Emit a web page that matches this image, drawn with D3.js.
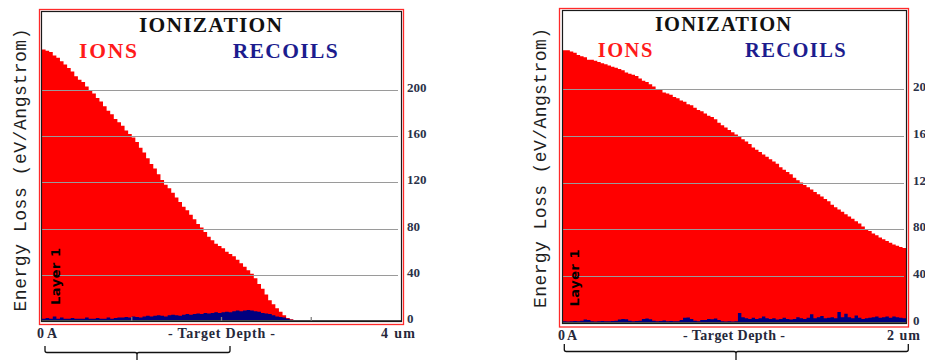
<!DOCTYPE html>
<html>
<head>
<meta charset="utf-8">
<script src="https://cdn.jsdelivr.net/npm/d3@7"></script>
<style>
  html, body { margin: 0; padding: 0; background: #fff; }
  svg { display: block; }
</style>
</head>
<body>
<svg id="chart" width="925" height="360"></svg>
<script>
// Ionization energy loss (eV/Angstrom) in 100 equal depth bins per target.
const leftDepthMax = 4;   // um
const rightDepthMax = 2;  // um

const leftIons = [
  235, 234, 233, 230, 228, 225, 222, 219, 216, 212,
  209, 207, 203, 200, 197, 193, 190, 186, 182, 179,
  175, 172, 169, 165, 162, 159, 155, 150, 146, 141,
  136, 132, 127, 122, 118, 115, 111, 107, 103, 99,
  96, 92, 88, 84, 81, 77, 73, 70, 67, 65,
  63, 60, 58, 56, 53, 50, 47, 44, 41, 37,
  32, 28, 23, 18, 14.5, 11, 8, 5, 2.6, 1.6,
  0.9, 0.3, 0, 0, 0, 0, 0, 0, 0, 0,
  0, 0, 0, 0, 0, 0, 0, 0, 0, 0,
  0, 0, 0, 0, 0, 0, 0, 0, 0, 0
];

const leftRecoils = [
  2, 2.5, 2, 4, 2, 3, 2, 2, 2.5, 2,
  2, 2, 3, 2, 2, 2.5, 2, 2, 3, 2,
  2.5, 3, 3, 3.5, 3, 4, 3.5, 3, 4, 4.5,
  4, 4.5, 5, 4.5, 4, 5, 5.5, 5, 4.5, 5.5,
  6, 5.5, 6, 6.5, 6, 7, 6.5, 7, 7.5, 7,
  7.5, 8, 7.5, 8.5, 9, 8.5, 9, 9.5, 9, 8.5,
  8, 7, 6.5, 6, 5, 4, 3.5, 3, 2, 1,
  0.5, 0, 0, 0, 0, 0, 0, 0, 0, 0,
  0, 0, 0, 0, 0, 0, 0, 0, 0, 0,
  0, 0, 0, 0, 0, 0, 0, 0, 0, 0
];

const rightIons = [
  233, 233, 232, 231, 229, 228, 227, 225, 225, 224,
  223, 222, 221, 220, 219, 218, 217, 216, 214, 213,
  212, 211, 209, 207, 206, 204, 202, 200, 199, 197,
  196, 195, 193, 192, 190, 189, 187, 186, 184, 182,
  181, 179, 177, 176, 174, 171, 169, 167, 165, 163,
  161, 159, 157, 155, 153, 150, 148, 146, 144, 142,
  140, 138, 136, 133, 131, 129, 127, 124, 122, 120,
  118, 116, 114, 112, 110, 108, 106, 104, 101, 99,
  97, 95, 93, 91, 89, 87, 85, 82.5, 80, 78.5,
  76.5, 75, 73, 71.5, 70, 68.5, 67, 66, 65, 64
];

const rightRecoils = [
  1.5, 1.2, 1.5, 1.8, 1.5, 2, 3, 2.5, 1.5, 1.2,
  1.5, 1.8, 1.5, 1.5, 1.8, 2, 3, 3.5, 3.3, 2,
  1.5, 1.8, 2, 3.5, 3.8, 3.2, 2, 1.5, 1.8, 2.2,
  1.5, 1.8, 1.5, 1.5, 2.5, 4.5, 4.8, 3.5, 2, 1.5,
  2.5, 2.5, 3.5, 3.2, 3.8, 2.5, 1.5, 1.2, 1.5, 1.2,
  1.5, 8.5, 5, 4, 3.5, 4.5, 3.5, 4, 5.5, 4,
  3.5, 4, 3, 3.5, 4.5, 3.5, 3, 3.5, 5, 4,
  3.5, 4.5, 7.5, 4, 5, 6, 4, 4.5, 5, 4,
  9.5, 5, 8, 5, 4, 6.5, 4.5, 3.5, 4, 4.5,
  5, 5.5, 4.5, 5, 5.5, 4.5, 5.5, 5, 4.5, 4
];

const yTicks = [0, 40, 80, 120, 160, 200];
const gridValues = [40, 80, 120, 160, 200];
const leftDepthTicks = [1, 2, 3];
const rightDepthTicks = [];

const titleText = "IONIZATION";
const ionsLabel = "IONS";
const recoilsLabel = "RECOILS";
const yAxisLabel = "Energy Loss (eV/Angstrom)";
const layerLabel = "Layer 1";
const depthLabel = "- Target Depth -";
const depthStart = "0 A";
const leftDepthEnd = "4 um";
const rightDepthEnd = "2 um";

const ION_RED = "#ff0000";
const RECOIL_BLUE = "#000080";
const SERIF = "'Liberation Serif', 'Times New Roman', serif";
const MONO = "'Courier New', 'Liberation Mono', monospace";
const SANS = "'DejaVu Sans', sans-serif";

const svg = d3.select("#chart");
svg.append("rect").attr("width", 925).attr("height", 360).attr("fill", "#fff");

function drawPanel(p, idx) {
  const g = svg.append("g");
  const x = d3.scaleLinear().domain([0, p.depthMax]).range([p.plotLeft, p.plotRight]);
  const y = d3.scaleLinear().domain([0, p.yMax]).range([p.plotBottom, p.plotTop]);

  const clipId = "clip" + idx;
  g.append("clipPath").attr("id", clipId)
    .append("rect")
    .attr("x", p.plotLeft).attr("y", p.plotTop)
    .attr("width", p.plotRight - p.plotLeft)
    .attr("height", p.plotBottom - p.plotTop);

  const binWidth = p.depthMax / p.ions.length;
  const toSteps = arr => {
    const pts = arr.map((v, i) => [i * binWidth, v]);
    pts.push([arr.length * binWidth, arr[arr.length - 1]]);
    return pts;
  };
  const area = d3.area()
    .x(d => x(d[0]))
    .y0(y(0))
    .y1(d => y(d[1]))
    .curve(d3.curveStepAfter);

  const plot = g.append("g").attr("clip-path", `url(#${clipId})`);
  plot.append("path").datum(toSteps(p.ions)).attr("d", area).attr("fill", ION_RED);
  plot.append("path").datum(toSteps(p.recoils)).attr("d", area).attr("fill", RECOIL_BLUE);

  // horizontal grid lines over the fills
  g.append("g").selectAll("line").data(gridValues).join("line")
    .attr("x1", p.plotLeft).attr("x2", p.gridRight)
    .attr("y1", d => Math.round(y(d)) + 0.5).attr("y2", d => Math.round(y(d)) + 0.5)
    .attr("stroke", "#9a9a9a").attr("stroke-width", 1.2);

  // depth axis with small upward ticks
  g.append("line")
    .attr("x1", p.plotLeft).attr("x2", p.plotRight)
    .attr("y1", y(0)).attr("y2", y(0))
    .attr("stroke", "#505050").attr("stroke-width", 2);
  g.append("g").selectAll("line").data(p.depthTicks).join("line")
    .attr("x1", d => x(d)).attr("x2", d => x(d))
    .attr("y1", y(0)).attr("y2", y(0) - 4)
    .attr("stroke", "#808080").attr("stroke-width", 1.3);

  // frames
  g.append("rect")
    .attr("x", p.inner[0]).attr("y", p.inner[1])
    .attr("width", p.inner[2] - p.inner[0]).attr("height", p.inner[3] - p.inner[1])
    .attr("fill", "none").attr("stroke", "#1a1a1a").attr("stroke-width", 1.2);
  g.append("rect")
    .attr("x", p.outer[0]).attr("y", p.outer[1])
    .attr("width", p.outer[2] - p.outer[0]).attr("height", p.outer[3] - p.outer[1])
    .attr("fill", "none").attr("stroke", "#ff2a2a").attr("stroke-width", 1.3);

  // energy tick labels on the right
  g.append("g").selectAll("text").data(yTicks).join("text")
    .attr("x", p.tickX).attr("y", d => y(d) + 2)
    .attr("font-family", SERIF).attr("font-weight", "bold").attr("font-size", 13)
    .attr("fill", "#2b3148")
    .text(d => d);

  // headings
  g.append("text")
    .attr("x", p.title[0]).attr("y", p.title[1]).attr("text-anchor", "middle")
    .attr("font-family", SERIF).attr("font-weight", "bold").attr("font-size", p.titleSize)
    .attr("textLength", p.title[2]).attr("fill", "#111")
    .text(titleText);
  g.append("text")
    .attr("x", p.ionsPos[0]).attr("y", p.ionsPos[1])
    .attr("font-family", SERIF).attr("font-weight", "bold").attr("font-size", p.titleSize)
    .attr("textLength", p.ionsPos[2]).attr("fill", "#ff1a1a")
    .text(ionsLabel);
  g.append("text")
    .attr("x", p.recoilsPos[0]).attr("y", p.recoilsPos[1])
    .attr("font-family", SERIF).attr("font-weight", "bold").attr("font-size", p.titleSize)
    .attr("textLength", p.recoilsPos[2]).attr("fill", "#1c1c8e")
    .text(recoilsLabel);

  // rotated labels
  g.append("text")
    .attr("transform", `translate(${p.yLabel[0]},${p.yLabel[1]}) rotate(-90)`)
    .attr("text-anchor", "middle")
    .attr("font-family", MONO).attr("font-size", 18)
    .attr("textLength", p.yLabel[2]).attr("fill", "#1e1e1e")
    .text(yAxisLabel);
  g.append("text")
    .attr("transform", `translate(${p.layer[0]},${p.layer[1]}) rotate(-90)`)
    .attr("text-anchor", "middle")
    .attr("font-family", SANS).attr("font-weight", "bold").attr("font-size", 13)
    .attr("textLength", p.layer[2]).attr("fill", "#000")
    .text(layerLabel);

  // depth labels
  const depthText = (pos, txt, anchor) => g.append("text")
    .attr("x", pos[0]).attr("y", pos[1]).attr("text-anchor", anchor)
    .attr("font-family", SERIF).attr("font-weight", "bold").attr("font-size", 14)
    .attr("textLength", pos[2]).attr("fill", "#26283a")
    .text(txt);
  depthText(p.startPos, depthStart, "start");
  depthText(p.midPos, depthLabel, "middle");
  depthText(p.endPos, p.endText, "start");

  // brace under the depth axis
  const [bl, br, bc, bt, bh, bb] = p.brace;
  const r = 2;
  const bracePath = `M${bl},${bt} L${bl},${bh - r} Q${bl},${bh} ${bl + r},${bh} L${bc - r},${bh} Q${bc},${bh} ${bc},${bh + r} L${bc},${bb}
    M${bc},${bh + r} Q${bc},${bh} ${bc + r},${bh} L${br - r},${bh} Q${br},${bh} ${br},${bh - r} L${br},${bt}`;
  g.append("path").attr("d", bracePath)
    .attr("fill", "none").attr("stroke", "#111").attr("stroke-width", 1.3);
}

const panels = [
  {
    depthMax: leftDepthMax, ions: leftIons, recoils: leftRecoils, depthTicks: leftDepthTicks,
    plotLeft: 42, plotRight: 401, plotTop: 11.5, plotBottom: 321, yMax: 268, gridRight: 398,
    inner: [41.5, 11.5, 401.5, 321.5], outer: [39.5, 9.5, 403.5, 324.5],
    tickX: 407, titleSize: 21.5,
    title: [210.5, 32, 143], ionsPos: [79, 58, 58], recoilsPos: [232.7, 58, 105],
    yLabel: [26, 170, 283], layer: [60, 276.5, 57],
    startPos: [37, 337.5, 20], midPos: [221.5, 337.5, 107], endPos: [381, 337.5, 34], endText: leftDepthEnd,
    brace: [45, 230, 137, 346, 352.5, 361]
  },
  {
    depthMax: rightDepthMax, ions: rightIons, recoils: rightRecoils, depthTicks: rightDepthTicks,
    plotLeft: 563, plotRight: 906, plotTop: 10.5, plotBottom: 323, yMax: 267, gridRight: 904,
    inner: [562.5, 10.5, 906.5, 323.5], outer: [559.5, 8.5, 908.5, 327],
    tickX: 913, titleSize: 20.5,
    title: [723, 31, 136], ionsPos: [597.7, 57, 54.6], recoilsPos: [745, 57, 100.7],
    yLabel: [546, 168, 280], layer: [579, 278, 57],
    startPos: [558, 339.5, 19], midPos: [734, 339.5, 102], endPos: [887, 339.5, 33], endText: rightDepthEnd,
    brace: [564.3, 908.3, 736, 344, 351.5, 361]
  }
];

panels.forEach(drawPanel);
</script>
</body>
</html>
